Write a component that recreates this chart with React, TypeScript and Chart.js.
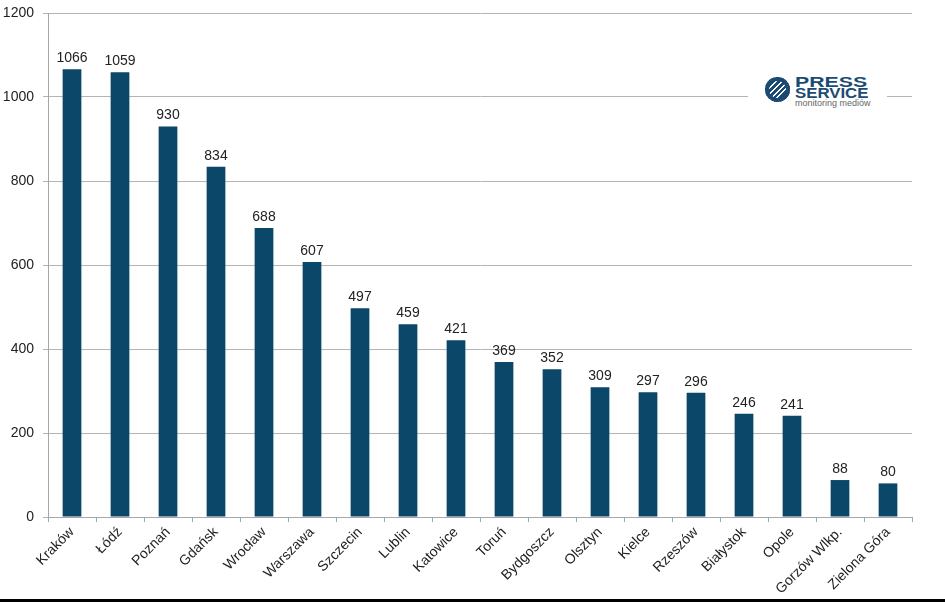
import { useEffect, useRef } from 'react';
import { Chart, registerables } from 'chart.js';

Chart.register(...registerables);

const cities = [
  'Kraków', 'Łódź', 'Poznań', 'Gdańsk', 'Wrocław', 'Warszawa', 'Szczecin', 'Lublin', 'Katowice',
  'Toruń', 'Bydgoszcz', 'Olsztyn', 'Kielce', 'Rzeszów', 'Białystok', 'Opole', 'Gorzów Wlkp.', 'Zielona Góra',
];
const counts = [1066, 1059, 930, 834, 688, 607, 497, 459, 421, 369, 352, 309, 297, 296, 246, 241, 88, 80];
const yTicks = [0, 200, 400, 600, 800, 1000, 1200];

const BAR_COLOR = '#0b4768';
const FONT = "'Liberation Sans', Arial, sans-serif";

// prints the value above each bar
const valueLabels = {
  id: 'valueLabels',
  afterDatasetsDraw(chart: Chart) {
    const { ctx } = chart;
    const meta = chart.getDatasetMeta(0);
    ctx.save();
    ctx.font = `14px ${FONT}`;
    ctx.fillStyle = '#222';
    ctx.textAlign = 'center';
    ctx.textBaseline = 'bottom';
    meta.data.forEach((bar: any, i: number) => {
      ctx.fillText(String(counts[i]), bar.x, bar.y - 4);
    });
    ctx.restore();
  },
};

function Logo() {
  const word = (text: string, scale: number, top: number) => (
    <div
      style={{
        position: 'absolute',
        left: 47,
        top,
        fontSize: 14,
        lineHeight: '11px',
        fontWeight: 'bold',
        color: '#1b4a73',
        whiteSpace: 'nowrap',
        transform: `scaleX(${scale})`,
        transformOrigin: 'left center',
      }}
    >
      {text}
    </div>
  );
  return (
    <div
      style={{
        position: 'absolute',
        left: 748,
        top: 72,
        width: 139,
        height: 38,
        background: '#fff',
        fontFamily: FONT,
      }}
    >
      <div
        style={{
          position: 'absolute',
          left: 17,
          top: 5,
          width: 25,
          height: 25,
          borderRadius: '50%',
          background:
            'repeating-linear-gradient(135deg, #1b4a73 0px, #1b4a73 2.5px, #ffffff 2.5px, #ffffff 4px)',
          boxShadow: 'inset 0 0 0 4px #1b4a73',
        }}
      />
      {word('PRESS', 1.52, 5)}
      {word('SERVICE', 1.2, 16)}
      <div
        style={{
          position: 'absolute',
          left: 47,
          top: 26,
          fontSize: 9,
          color: '#666',
          whiteSpace: 'nowrap',
        }}
      >
        monitoring mediów
      </div>
    </div>
  );
}

export default function App() {
  const canvasRef = useRef<HTMLCanvasElement>(null);
  const chartRef = useRef<Chart | null>(null);

  useEffect(() => {
    if (!canvasRef.current) return;
    if (chartRef.current) chartRef.current.destroy();

    chartRef.current = new Chart(canvasRef.current, {
      type: 'bar',
      data: {
        labels: cities,
        datasets: [
          {
            data: counts,
            backgroundColor: BAR_COLOR,
            barPercentage: 0.39,
            categoryPercentage: 1,
          },
        ],
      },
      options: {
        animation: false,
        responsive: false,
        maintainAspectRatio: false,
        layout: { padding: { top: 13, right: 33, left: 0, bottom: 0 } },
        plugins: {
          legend: { display: false },
          tooltip: { enabled: false },
        },
        scales: {
          x: {
            grid: {
              offset: true,
              drawOnChartArea: false,
              color: '#a6a6a6',
              tickLength: 5,
            },
            border: { color: '#a6a6a6' },
            ticks: {
              color: '#222',
              font: { family: FONT, size: 14 },
              minRotation: 45,
              maxRotation: 45,
              padding: 2,
            },
            afterFit(scale: any) {
              scale.height = 83;
            },
          },
          y: {
            min: 0,
            max: 1200,
            afterBuildTicks(scale: any) {
              scale.ticks = yTicks.map((v) => ({ value: v }));
            },
            grid: { color: '#b4b4b4', tickLength: 5 },
            border: { color: '#a6a6a6' },
            ticks: {
              color: '#222',
              font: { family: FONT, size: 14 },
              padding: 9,
              callback: (v: any) => String(v),
            },
            afterFit(scale: any) {
              scale.width = 48;
              scale.paddingTop = 0;
              scale.paddingBottom = 0;
            },
          },
        },
      },
      plugins: [valueLabels],
    });

    return () => {
      if (chartRef.current) {
        chartRef.current.destroy();
        chartRef.current = null;
      }
    };
  }, []);

  return (
    <div
      style={{
        position: 'fixed',
        left: 0,
        top: 0,
        width: 945,
        height: 602,
        background: '#fff',
        overflow: 'hidden',
      }}
    >
      <canvas ref={canvasRef} width={945} height={600} style={{ display: 'block' }} />
      <Logo />
      <div
        style={{
          position: 'absolute',
          left: 0,
          top: 599,
          width: 945,
          height: 3,
          background: '#000',
        }}
      />
    </div>
  );
}
